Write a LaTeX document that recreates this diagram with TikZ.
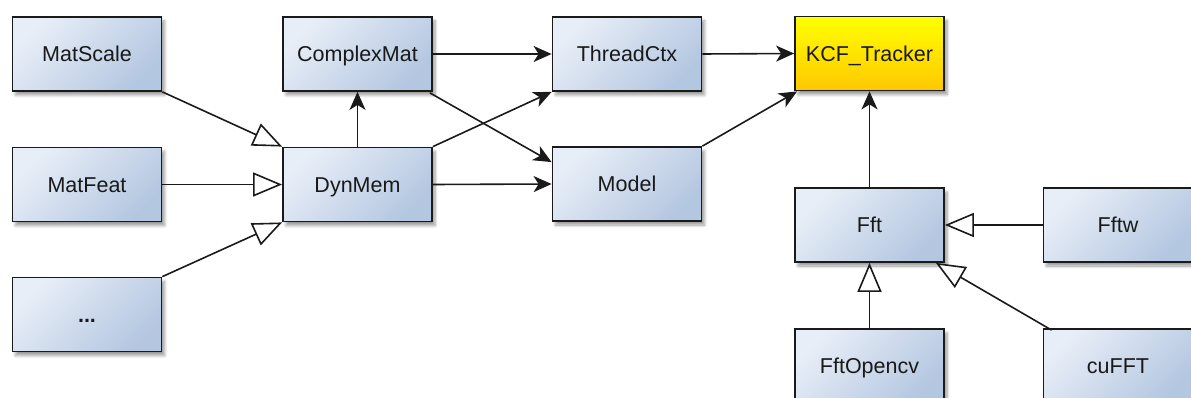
\documentclass[tikz,border=0pt]{standalone}
\usepackage{fontspec}
\setmainfont{Liberation Sans}
\usetikzlibrary{arrows.meta,shadows.blur,calc}
\definecolor{boxlight}{HTML}{E8EEF7}
\definecolor{boxdark}{HTML}{B4C7E1}
\definecolor{ylight}{HTML}{FFFF00}
\definecolor{ydark}{HTML}{FFC800}
\definecolor{edge}{HTML}{1A1A1A}
\tikzset{
  cls/.style={draw=edge, line width=1.8pt, minimum width=149pt, minimum height=74pt,
    inner sep=0pt, text height=15.5pt, text depth=0pt,
    top color=boxlight, bottom color=boxdark, shading angle=45,
    font=\fontsize{21.5}{25}\selectfont, text=black!90,
    blur shadow={shadow xshift=3pt, shadow yshift=-4pt, shadow blur steps=6, shadow blur radius=3pt, shadow opacity=40}},
  hot/.style={cls, top color=ylight, bottom color=ydark},
  uses/.style={draw=edge, line width=1.6pt, -{Stealth[length=18pt, width=16pt, inset=5pt]}},
  inherit/.style={draw=edge, line width=1.6pt, -{Triangle[open, length=29pt, width=24pt, fill=white]}}
}
\begin{document}
\begin{tikzpicture}[x=1pt, y=-1pt]
\useasboundingbox (0,0) rectangle (1191,398);
\clip (0,0) rectangle (1191,398);
\node[cls] (matscale) at (87,54) {MatScale};
\node[cls] (matfeat) at (87,184.5) {MatFeat};
\node[cls] (dots) at (87,314.5) {\textbf{...}};
\node[cls] (complexmat) at (357.5,54) {ComplexMat};
\node[cls] (dynmem) at (357.5,184.5) {DynMem};
\node[cls] (threadctx) at (627,54) {ThreadCtx};
\node[cls] (model) at (627,184) {Model};
\node[hot] (kcf) at (869.5,53.5) {KCF\_Tracker};
\node[cls] (fft) at (869.5,225) {Fft};
\node[cls] (fftw) at (1118,225) {Fftw};
\node[cls] (fftopencv) at (869.5,366) {FftOpencv};
\node[cls] (cufft) at (1118,366) {cuFFT};

\draw[inherit] (matscale.south east) -- (dynmem.north west);
\draw[inherit] (matfeat.east) -- (dynmem.west);
\draw[inherit] (dots.north east) -- (dynmem.south west);
\draw[uses] (dynmem.north) -- (complexmat.south);
\draw[uses] (complexmat.east) -- (threadctx.west);
\draw[uses] ($(complexmat.south east)+(-3,1)$) -- ($(model.north west)+(0,16)$);
\draw[uses] (dynmem.north east) -- (threadctx.south west);
\draw[uses] (dynmem.east) -- (model.west);
\draw[uses] (threadctx.east) -- (kcf.west);
\draw[uses] (model.north east) -- ($(kcf.south west)+(3,0)$);
\draw[uses] (fft.north) -- (kcf.south);
\draw[inherit] (fftw.west) -- (fft.east);
\draw[inherit] (fftopencv.north) -- (fft.south);
\draw[inherit] ($(cufft.north west)+(9,2)$) -- ($(fft.south east)+(-9,0)$);
\end{tikzpicture}
\end{document}
